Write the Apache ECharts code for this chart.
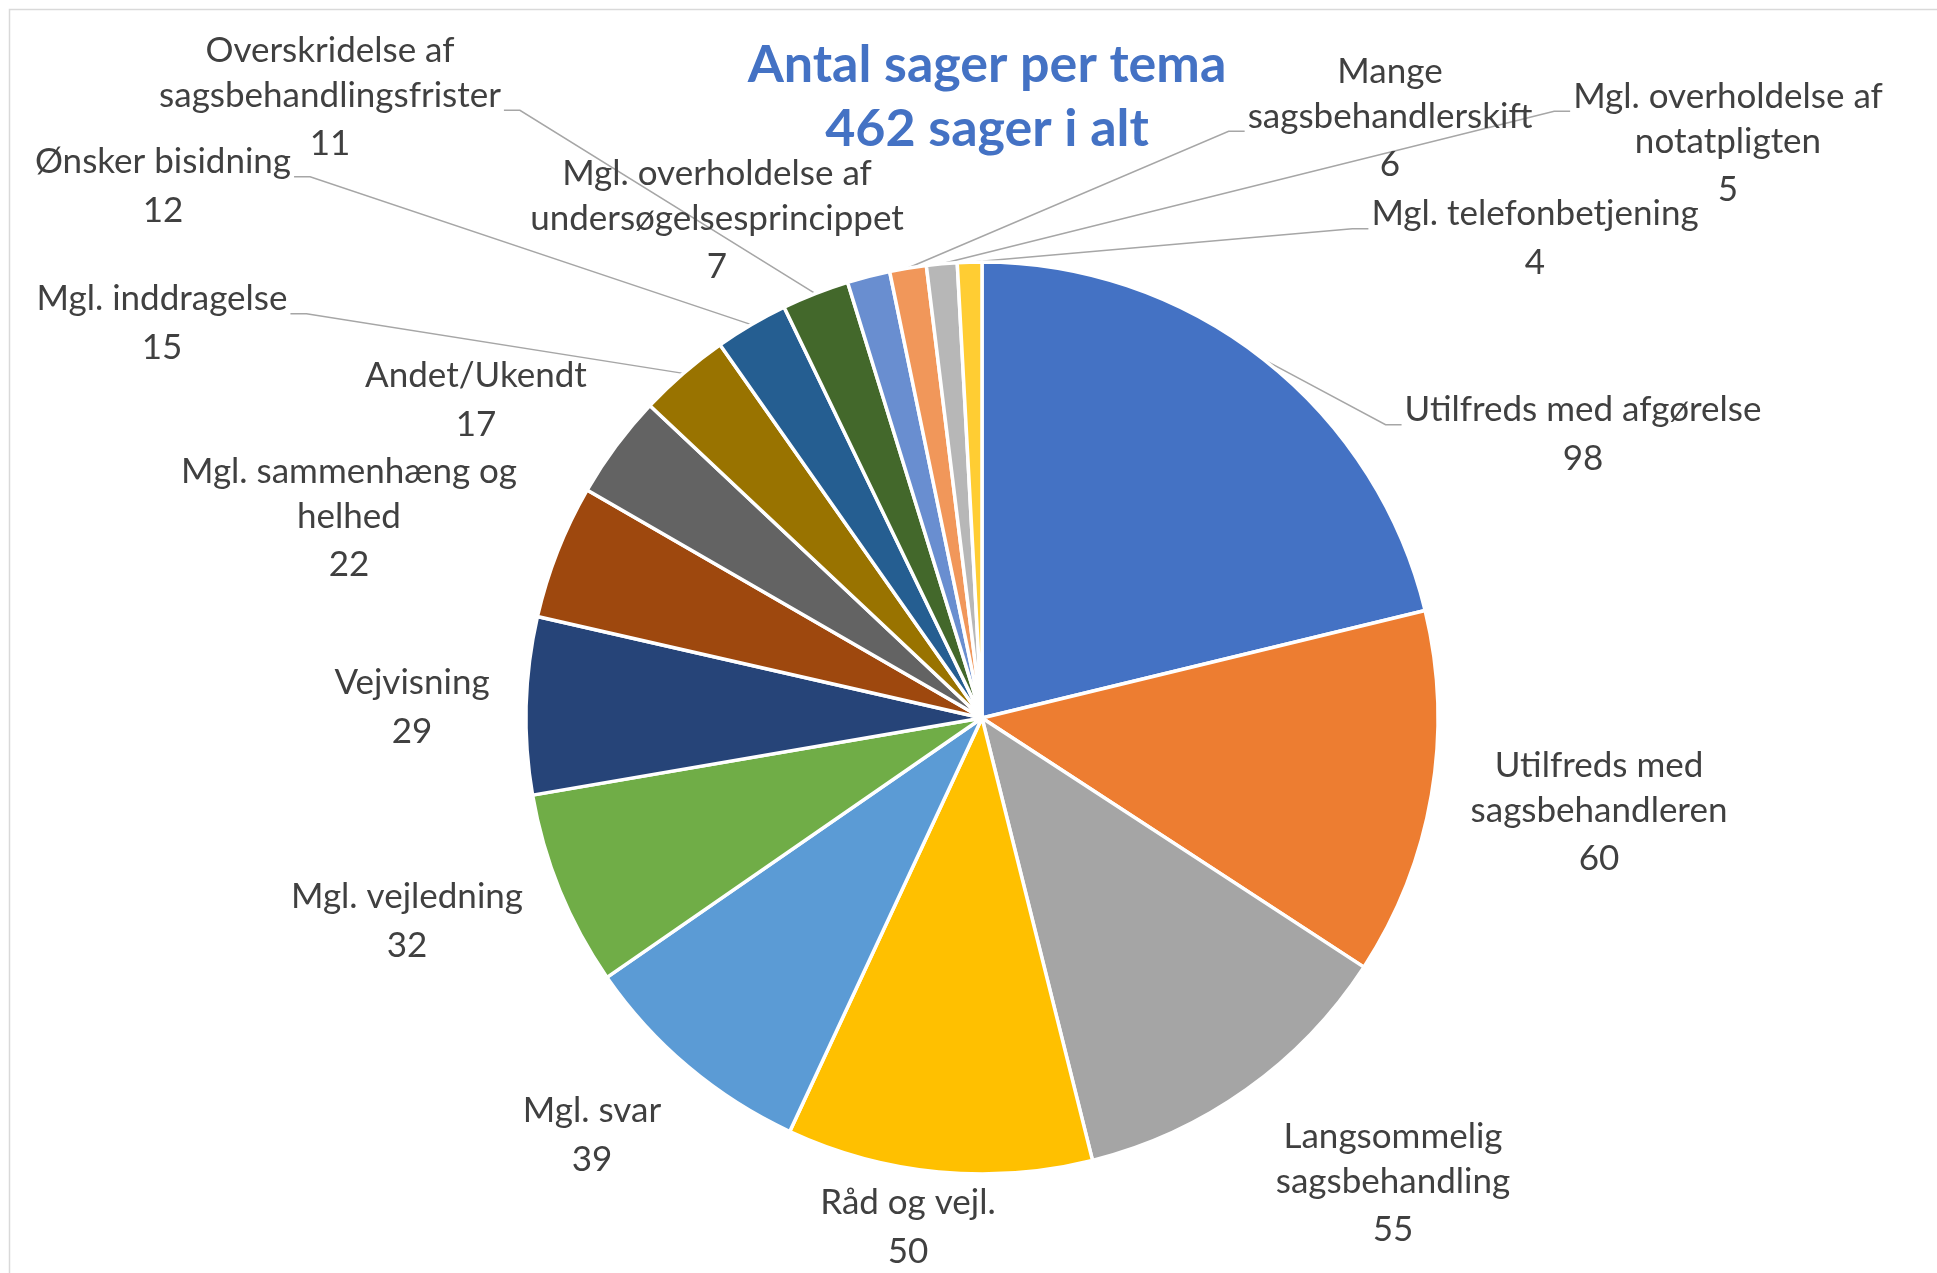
<!DOCTYPE html>
<html>
<head>
<meta charset="utf-8">
<script src="https://cdn.jsdelivr.net/npm/echarts@6/dist/echarts.min.js"></script>
<style>
  html, body { margin: 0; padding: 0; background: #fff; overflow: hidden; }
  #chart { width: 1937px; height: 1273px; }
</style>
</head>
<body>
<div id="chart"></div>
<script>
// slices, clockwise from 12 o'clock
const categories = [
  'Utilfreds med afgørelse',
  'Utilfreds med\nsagsbehandleren',
  'Langsommelig\nsagsbehandling',
  'Råd og vejl.',
  'Mgl. svar',
  'Mgl. vejledning',
  'Vejvisning',
  'Mgl. sammenhæng og\nhelhed',
  'Andet/Ukendt',
  'Mgl. inddragelse',
  'Ønsker bisidning',
  'Overskridelse af\nsagsbehandlingsfrister',
  'Mgl. overholdelse af\nundersøgelsesprincippet',
  'Mange\nsagsbehandlerskift',
  'Mgl. overholdelse af\nnotatpligten',
  'Mgl. telefonbetjening'
]
const values = [98, 60, 55, 50, 39, 32, 29, 22, 17, 15, 12, 11, 7, 6, 5, 4]

const colors = [
  '#4472C4', '#ED7D31', '#A5A5A5', '#FFC000', '#5B9BD5', '#70AD47', '#264478', '#9E480E',
  '#636363', '#997300', '#255E91', '#43682B', '#698ED0', '#F1975A', '#B7B7B7', '#FFCD33'
]

// where each label block is centred (px), and whether it gets a leader line
const labelPos = [
  [1583, 436], [1599, 814], [1393, 1185], [908, 1229], [592, 1137], [407, 923],
  [412, 709], [349, 520], [476, 402], [162, 325], [163, 188], [330, 99],
  [717, 222], [1390, 120], [1728, 145], [1535, 240]
]
const hasLeader = [true, false, false, false, false, false, false, false, false,
  true, true, true, false, true, true, true]

const NAME_LH = 45
const VALUE_LH = 52
const textColor = '#404040'

const chart = echarts.init(document.getElementById('chart'))

const option = {
  animation: false,
  backgroundColor: '#fff',
  title: {
    text: 'Antal sager per tema\n462 sager i alt',
    left: 982,
    top: 28,
    textAlign: 'center',
    textStyle: {
      fontFamily: 'Lato',
      fontSize: 52,
      fontWeight: 'bold',
      color: '#4472C4',
      lineHeight: 64
    }
  },
  graphic: [{
    type: 'rect',
    silent: true,
    shape: { x: 9.5, y: 9.5, width: 3000, height: 3000 },
    style: { fill: null, stroke: '#d9d9d9', lineWidth: 1.5 }
  }],
  series: [{
    type: 'pie',
    center: [982, 718],
    radius: 456,
    startAngle: 90,
    clockwise: true,
    avoidLabelOverlap: false,
    itemStyle: { borderColor: '#fff', borderWidth: 3.5 },
    emphasis: { disabled: true },
    label: {
      show: true,
      position: 'outside',
      fontFamily: 'Lato',
      color: textColor,
      formatter: function (p) {
        const lines = p.name.split('\n').map(s => '{n|' + s + '}')
        return lines.join('\n') + '\n{v|' + p.value + '}'
      },
      rich: {
        n: { fontFamily: 'Lato', fontSize: 35, color: textColor, lineHeight: NAME_LH, align: 'center' },
        v: { fontFamily: 'Lato', fontSize: 35, color: textColor, lineHeight: VALUE_LH, align: 'center' }
      }
    },
    labelLine: {
      show: true,
      length: 10,
      length2: 10,
      lineStyle: { color: '#a6a6a6', width: 1.5 }
    },
    labelLayout: function (p) {
      const i = p.dataIndex
      const x = labelPos[i][0]
      const y = labelPos[i][1]
      const out = { x: x, y: y, align: 'center', verticalAlign: 'middle' }
      if (hasLeader[i] && p.labelLinePoints) {
        const w = p.labelRect.width
        const h = p.labelRect.height
        const lines = categories[i].split('\n')
        let k = 0
        lines.forEach((s, j) => { if (s.length > lines[k].length) k = j })
        const start = p.labelLinePoints[0]
        const onLeft = x > start[0]
        const ax = onLeft ? x - w / 2 - 3 : x + w / 2 + 3
        const ay = y - h / 2 + k * NAME_LH + NAME_LH / 2 + 8
        out.labelLinePoints = [
          [start[0], start[1]],
          [onLeft ? ax - 16 : ax + 16, ay],
          [ax, ay]
        ]
      }
      return out
    },
    data: categories.map((name, i) => ({
      name: name,
      value: values[i],
      itemStyle: { color: colors[i] },
      labelLine: { show: hasLeader[i] }
    }))
  }]
}

chart.setOption(option)
</script>
</body>
</html>
